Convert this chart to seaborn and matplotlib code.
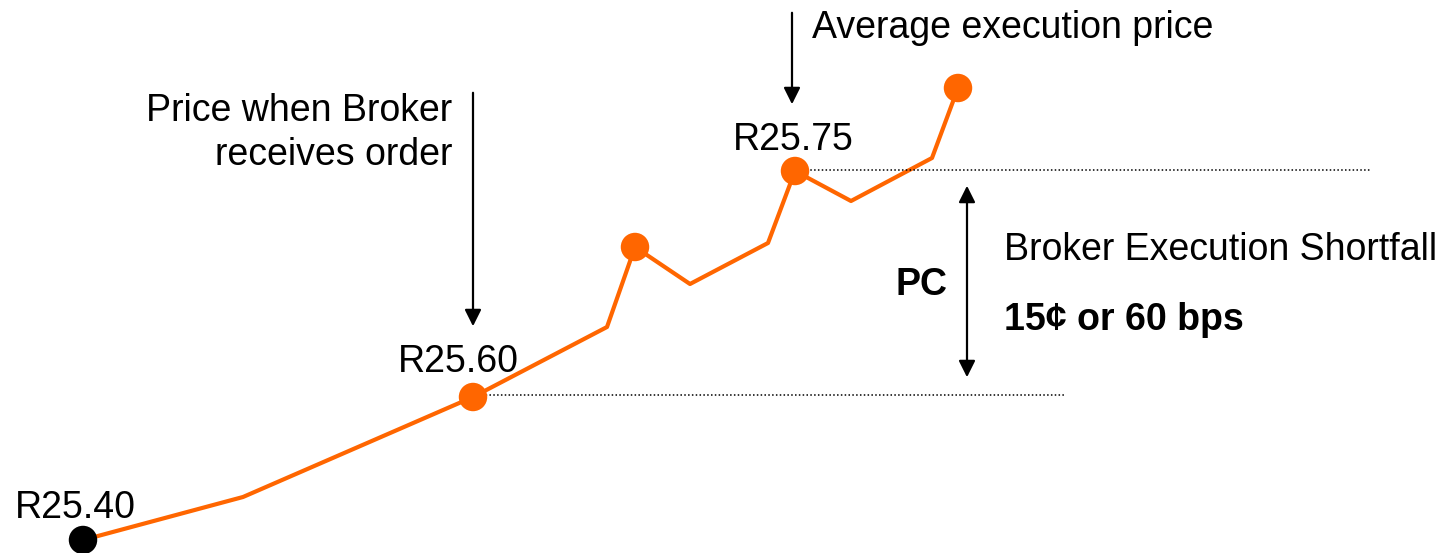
import pandas as pd
import seaborn as sns
import matplotlib.pyplot as plt

# price path (schematic: time step vs price level)
steps = [83, 243, 473, 607, 635, 690, 768, 795, 851, 932, 958]
levels = [13, 56, 156, 226, 306, 269, 310, 382, 352, 395, 465]
marker_idx = [0, 2, 4, 7, 10]
marker_colors = ["black", "#FF6600", "#FF6600", "#FF6600", "#FF6600"]
price_labels = {0: "R25.40", 2: "R25.60", 7: "R25.75"}

ORANGE = "#FF6600"
FS = 27

df = pd.DataFrame({"step": steps, "level": levels})
dots = df.iloc[marker_idx].assign(kind=marker_colors)

sns.set_theme(style="white")
plt.rcParams["font.family"] = ["Liberation Sans", "DejaVu Sans"]
plt.rcParams["text.color"] = "black"

fig = plt.figure(figsize=(14.41, 5.53), dpi=100)
ax = fig.add_axes([0, 0, 1, 1])

sns.lineplot(data=df, x="step", y="level", color=ORANGE, linewidth=3.0, ax=ax, sort=False)
sns.scatterplot(
    data=dots, x="step", y="level", hue="kind",
    palette={"black": "black", "#FF6600": ORANGE},
    s=420, edgecolor="none", legend=False, ax=ax, zorder=3,
)

# dotted reference lines at receive / average execution price
recv_x, recv_y = steps[2], levels[2]
avg_x, avg_y = steps[7], levels[7]
ax.plot([recv_x + 5, 1066], [recv_y + 2, recv_y + 2], color="black", linestyle=(0, (1, 1.5)), lw=1.1)
ax.plot([avg_x, 1370], [avg_y + 1, avg_y + 1], color="black", linestyle=(0, (1, 1.5)), lw=1.1)

# price labels
ax.text(steps[0] - 68, levels[0] + 32, price_labels[0], fontsize=FS, va="center")
ax.text(recv_x - 75, recv_y + 35, price_labels[2], fontsize=FS, va="center")
ax.text(avg_x - 62, avg_y + 31, price_labels[7], fontsize=FS, va="center")

arrow = dict(arrowstyle="-|>", color="black", lw=1.6, mutation_scale=25)

# price when broker receives order
ax.annotate("", xy=(recv_x, recv_y + 68), xytext=(recv_x, 463), arrowprops=arrow)
ax.text(452, 420, "Price when Broker\nreceives order", fontsize=FS, ha="right", va="center",
        linespacing=1.3)

# average execution price
ax.annotate("", xy=(avg_x - 3, 446), xytext=(avg_x - 3, 543), arrowprops=arrow)
ax.text(812, 525, "Average execution price", fontsize=FS, va="center")

# PC double arrow
ax.annotate("", xy=(967, 370), xytext=(967, 173),
            arrowprops=dict(arrowstyle="<|-|>", color="black", lw=1.6, mutation_scale=25))
ax.text(948, 268, "PC", fontsize=FS, fontweight="bold", ha="right", va="center")
ax.text(1004, 303, "Broker Execution Shortfall", fontsize=FS, va="center")
ax.text(1004, 233, "15¢ or 60 bps", fontsize=FS, fontweight="bold", va="center")

ax.set_xlim(0, 1441)
ax.set_ylim(0, 553)
ax.set_axis_off()

fig.savefig("out.png", dpi=100, facecolor="white")
